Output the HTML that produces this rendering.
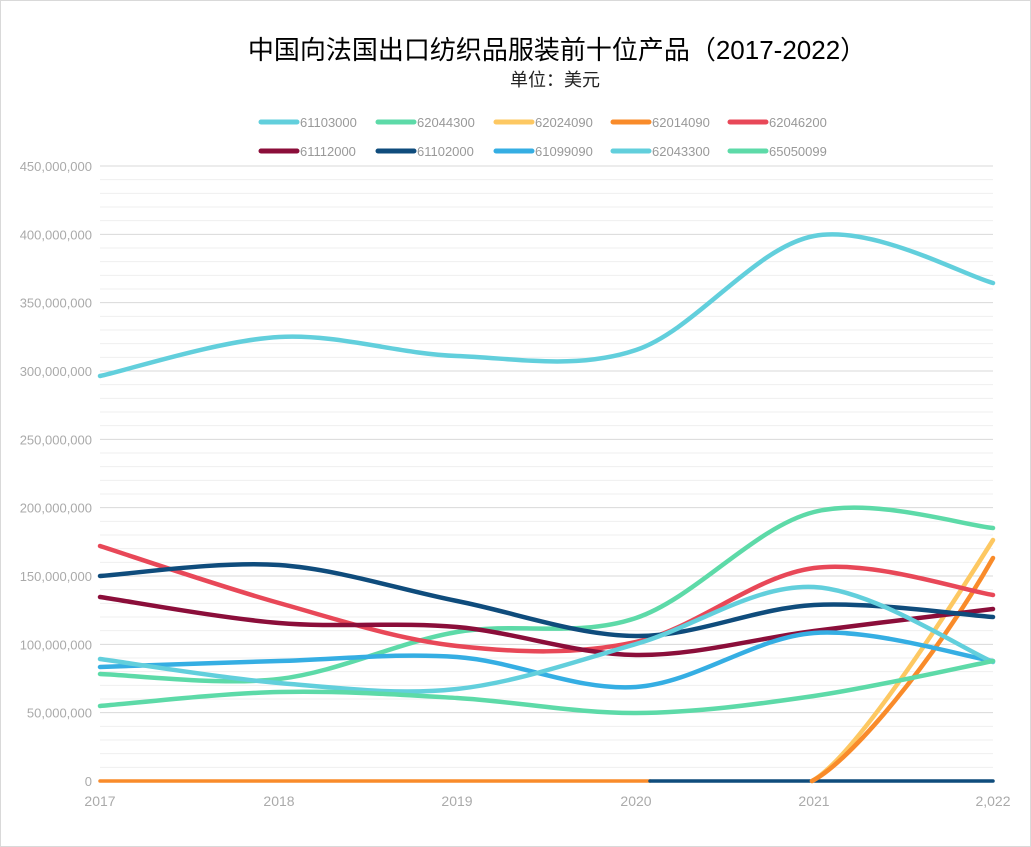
<!DOCTYPE html>
<html><head><meta charset="utf-8"><style>
body{margin:0;background:#fff;}
svg{display:block;font-family:"Liberation Sans","Noto Sans CJK SC",sans-serif;}
</style></head><body>
<svg id="s" width="1031" height="847" xmlns="http://www.w3.org/2000/svg">
<rect x="0.5" y="0.5" width="1030" height="846" fill="#fff" stroke="#d9d9d9"/>
<text x="557" y="59" text-anchor="middle" font-size="26" fill="#000">中国向法国出口纺织品服装前十位产品（2017-2022）</text>
<text x="555" y="86" text-anchor="middle" font-size="18" fill="#222">单位：美元</text>
<g id="grid"></g>
<g id="lab" font-size="13" fill="#aaa"></g>
<g id="leg" font-size="13" fill="#999"></g>
<g id="ser" fill="none" stroke-width="4.5" stroke-linecap="round"></g>
</svg>
<script>
const NS="http://www.w3.org/2000/svg";
function el(p,t,a,txt){const e=document.createElementNS(NS,t);for(const k in a)e.setAttribute(k,a[k]);if(txt!==undefined)e.textContent=txt;document.getElementById(p).appendChild(e);return e;}
const X=[100,279,457,636,814,993];
const y0=781,k=615/450;
for(let v=0;v<=450;v+=10){const y=y0-v*k;const maj=v%50==0;
 el("grid","line",{x1:100,x2:993,y1:y,y2:y,stroke:maj?"#d9d9d9":"#efefef","stroke-width":1});
 if(maj)el("lab","text",{x:92,y:y+5,"text-anchor":"end"},v==0?"0":(v*1e6).toLocaleString("en-US"));}
["2017","2018","2019","2020","2021","2,022"].forEach((t,i)=>el("lab","text",{x:X[i],y:806,"text-anchor":"middle","font-size":14},t));
const S=[
["61103000","#62cfdc",[376,337,356,350,236,283]],
["62044300","#5ddaa8",[674,679,632,618,512,528]],
["62024090","#fdc862",null],
["62014090","#f98b2a",null],
["62046200","#e84858",[546,603,646,642,568,595]],
["61112000","#8b0e3a",[597,623,627,655,631,609]],
["61102000","#0f4c7c",[576,565,601,636,605,617]],
["61099090","#35aee3",[667,661,657,687,633,661]],
["62043300","#62cfdc",[659,683,689,644,587,662]],
["65050099","#5ddaa8",[706,692,698,713,696,661]]];
const LX=[261,378,496,613,730];
S.forEach((s,i)=>{const lx=LX[i%5],ly=i<5?122:151;
 el("leg","line",{x1:lx,x2:lx+36,y1:ly,y2:ly,stroke:s[1],"stroke-width":5,"stroke-linecap":"round"});
 el("leg","text",{x:lx+39,y:ly+5},s[0]);});
function path(P){let d="M"+P[0][0]+","+P[0][1];
 for(let i=0;i<P.length-1;i++){const p0=P[i-1]||P[i],p1=P[i],p2=P[i+1],p3=P[i+2]||p2;
  const c1=[p1[0]+(p2[0]-p0[0])/6,p1[1]+(p2[1]-p0[1])/6],c2=[p2[0]-(p3[0]-p1[0])/6,p2[1]-(p3[1]-p1[1])/6];
  d+=`C${c1[0]},${c1[1]} ${c2[0]},${c2[1]} ${p2[0]},${p2[1]}`;}return d;}
// zero lines
el("ser","line",{x1:100,x2:650,y1:781,y2:781,stroke:"#f98b2a","stroke-width":3.5});
el("ser","line",{x1:650,x2:993,y1:781,y2:781,stroke:"#0f4c7c","stroke-width":3.5});
el("ser","path",{d:"M812,781 C850,760 930,640 993,540",stroke:"#fdc862"});
el("ser","path",{d:"M812,781 C850,762 935,660 993,558",stroke:"#f98b2a"});
S.forEach(s=>{if(s[2])el("ser","path",{d:path(s[2].map((y,i)=>[X[i],y])),stroke:s[1]});});
</script>
</body></html>
